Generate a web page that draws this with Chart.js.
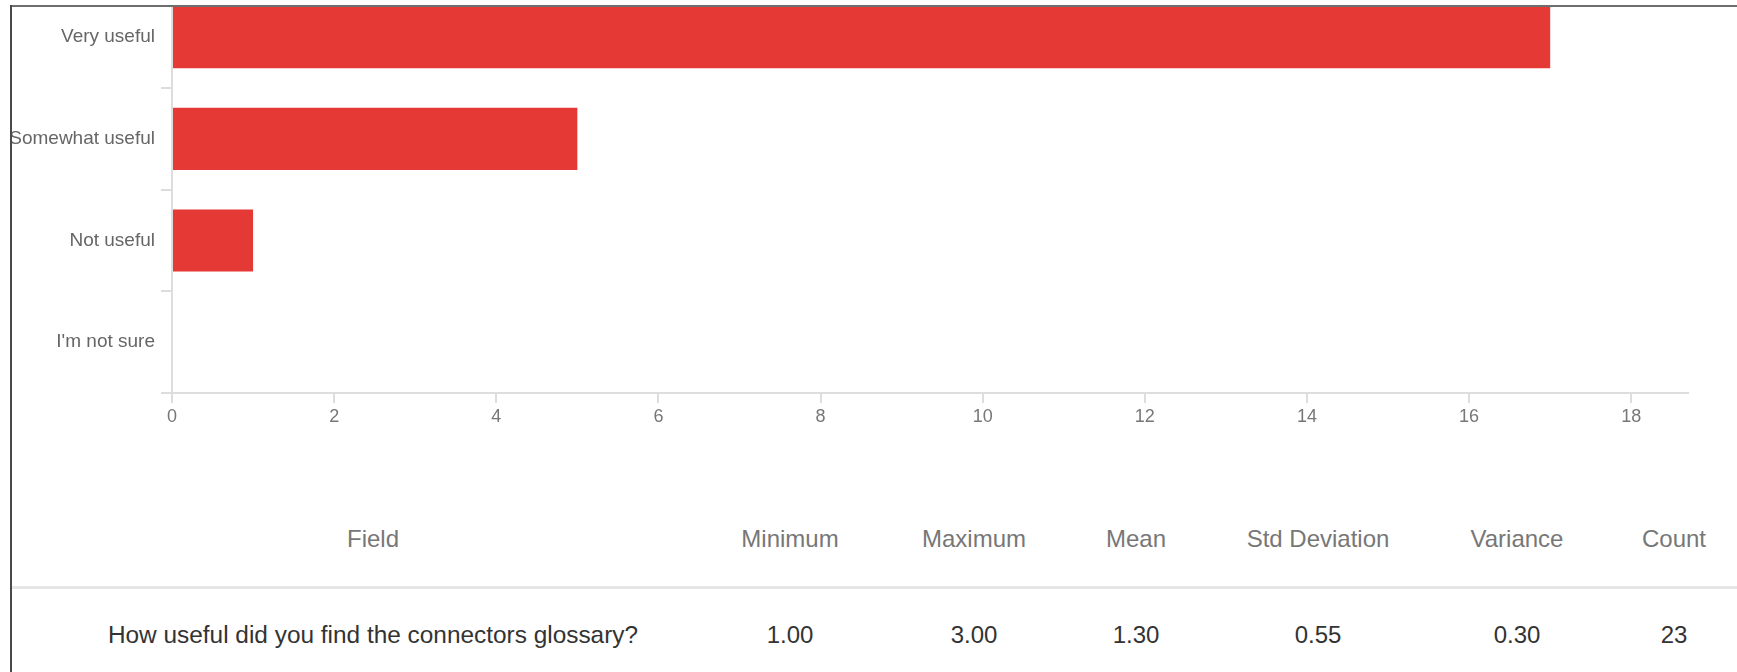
<!DOCTYPE html>
<html>
<head>
<meta charset="utf-8">
<script src="https://cdn.jsdelivr.net/npm/chart.js@4/dist/chart.umd.min.js"></script>
<style>
  html, body { margin: 0; padding: 0; background: #fff; }
  body { width: 1737px; height: 672px; position: relative; overflow: hidden;
         font-family: 'Liberation Sans', Arial, sans-serif; }
  #chartBox { position: absolute; left: 0; top: -31px; width: 1737px; height: 487px; }
  .frameTop { position: absolute; left: 10px; top: 5px; right: 0; height: 2px; background: #6e6e6e; z-index: 2; }
  .frameCover { position: absolute; left: 0; top: 0; right: 0; height: 5px; background: #fff; z-index: 1; }
  .frameLeft { position: absolute; left: 10px; top: 5px; bottom: 0; width: 2px; background: #4a4a4a; z-index: 2; }
  .rule { position: absolute; left: 12px; right: 0; top: 586px; height: 3px; background: #e6e6e6; }
  .cell { position: absolute; transform: translateX(-50%); white-space: nowrap;
          font-size: 24px; line-height: 24px; }
  .head { color: #777; top: 527px; }
  .val  { color: #333; top: 623px; }
  .wide { font-size: 24.4px; }
</style>
</head>
<body>
<div id="chartBox"><canvas id="chart"></canvas></div>
<div class="frameCover"></div>
<div class="frameTop"></div>
<div class="frameLeft"></div>
<div class="rule"></div>
<div id="table"></div>
<script>
// Response categories and how many respondents picked each one
const categories = ['Very useful', 'Somewhat useful', 'Not useful', "I'm not sure"];
const counts = [17, 5, 1, 0];

// Count axis range and tick spacing
const axisMin = 0;
const axisMax = 18.7;
const tickStep = 2;

// Summary statistics table
const statField = 'How useful did you find the connectors glossary?';
const statHeaders = ['Field', 'Minimum', 'Maximum', 'Mean', 'Std Deviation', 'Variance', 'Count'];
const statValues = [statField, '1.00', '3.00', '1.30', '0.55', '0.30', '23'];
const statColumnX = [373, 790, 974, 1136, 1318, 1517, 1674];

const FONT = "'Liberation Sans', Arial, sans-serif";
const AXIS_GREY = '#dddddd';

new Chart(document.getElementById('chart'), {
  type: 'bar',
  data: {
    labels: categories,
    datasets: [{
      data: counts,
      backgroundColor: '#e53935',
      borderWidth: 0,
      barPercentage: 0.61,
      categoryPercentage: 1.0
    }]
  },
  options: {
    indexAxis: 'y',
    responsive: true,
    maintainAspectRatio: false,
    animation: false,
    layout: { padding: { top: 0, right: 49, bottom: 0, left: 0 } },
    plugins: { legend: { display: false }, tooltip: { enabled: false } },
    scales: {
      x: {
        type: 'linear',
        min: axisMin,
        max: axisMax,
        afterFit: (s) => { s.height = 63; },
        ticks: {
          stepSize: tickStep,
          includeBounds: false,
          color: '#777',
          padding: 3,
          font: { family: FONT, size: 18 }
        },
        grid: { drawOnChartArea: false, drawTicks: true, tickLength: 10, color: AXIS_GREY, lineWidth: 2 },
        border: { display: true, color: AXIS_GREY, width: 2 }
      },
      y: {
        type: 'category',
        offset: true,
        afterFit: (s) => { s.width = 172; },
        ticks: {
          color: '#666',
          padding: 6,
          font: { family: FONT, size: 19 }
        },
        grid: {
          offset: true,
          drawOnChartArea: false,
          drawTicks: true,
          tickLength: 11,
          lineWidth: 2,
          color: (ctx) => (ctx.index === categories.length ? 'rgba(0,0,0,0)' : AXIS_GREY)
        },
        border: { display: true, color: AXIS_GREY, width: 2 }
      }
    }
  }
});

// Build the statistics table below the chart
const table = document.getElementById('table');
statHeaders.forEach((h, i) => {
  const d = document.createElement('div');
  d.className = 'cell head';
  d.style.left = statColumnX[i] + 'px';
  d.textContent = h;
  table.appendChild(d);
});
statValues.forEach((v, i) => {
  const d = document.createElement('div');
  d.className = 'cell val' + (i === 0 ? ' wide' : '');
  d.style.left = statColumnX[i] + 'px';
  d.textContent = v;
  table.appendChild(d);
});
</script>
</body>
</html>
